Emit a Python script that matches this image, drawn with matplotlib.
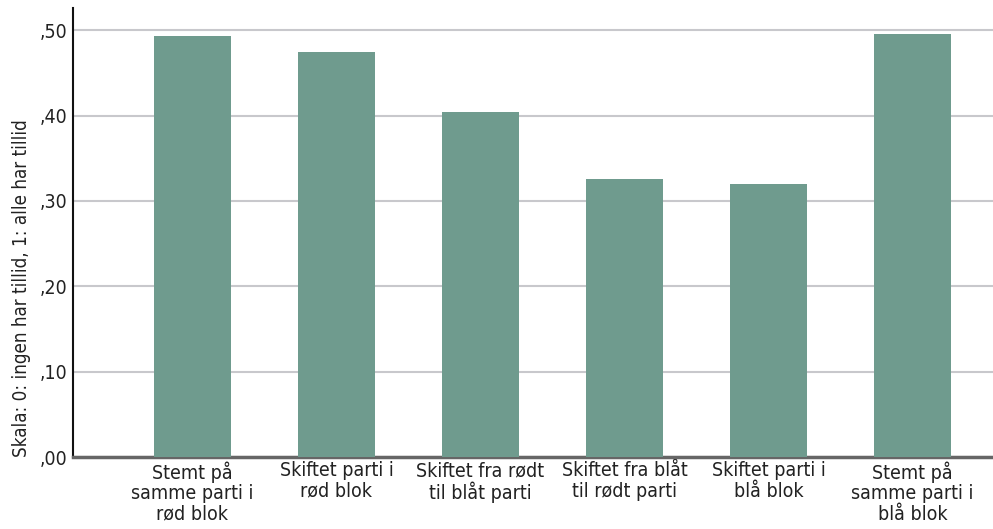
import matplotlib.pyplot as plt

plt.rcParams['font.family'] = ['Liberation Sans Narrow', 'DejaVu Sans']
plt.rcParams['font.stretch'] = 'condensed'

categories = ['Stemt på\nsamme parti i\nrød blok', 'Skiftet parti i\nrød blok',
              'Skiftet fra rødt\ntil blåt parti', 'Skiftet fra blåt\ntil rødt parti',
              'Skiftet parti i\nblå blok', 'Stemt på\nsamme parti i\nblå blok']
values = [0.493, 0.474, 0.404, 0.326, 0.320, 0.496]
yticks = [0.0, 0.1, 0.2, 0.3, 0.4, 0.5]
ytick_labels = [',00', ',10', ',20', ',30', ',40', ',50']

fig = plt.figure(figsize=(9.93, 5.29), dpi=100)
ax = fig.add_axes([0.0735, 0.136, 0.9265, 0.849])

x = range(len(categories))
ax.bar(x, values, width=0.53, color='#6f9b8e', zorder=3)

ax.set_xlim(-0.83, 5.56)
ax.set_ylim(0, 0.526)
ax.set_yticks(yticks)
ax.set_yticklabels(ytick_labels)
ax.set_xticks(list(x))
ax.set_xticklabels(categories, linespacing=1.1)
ax.tick_params(length=0, labelsize=14, colors='#222222')
ax.tick_params(axis='y', pad=4)
ax.tick_params(axis='x', pad=3)

ax.yaxis.grid(True, color='#c8c8cc', linewidth=1.5, zorder=0)
ax.set_axisbelow(True)

for s in ['top', 'right']:
    ax.spines[s].set_visible(False)
ax.spines['left'].set_color('#111111')
ax.spines['left'].set_linewidth(1.5)
ax.spines['bottom'].set_color('#666666')
ax.spines['bottom'].set_linewidth(2.5)

ax.set_ylabel('Skala: 0: ingen har tillid, 1: alle har tillid', fontsize=13.5,
              color='#222222', loc='bottom', labelpad=6)

fig.savefig('out.png', dpi=100)
